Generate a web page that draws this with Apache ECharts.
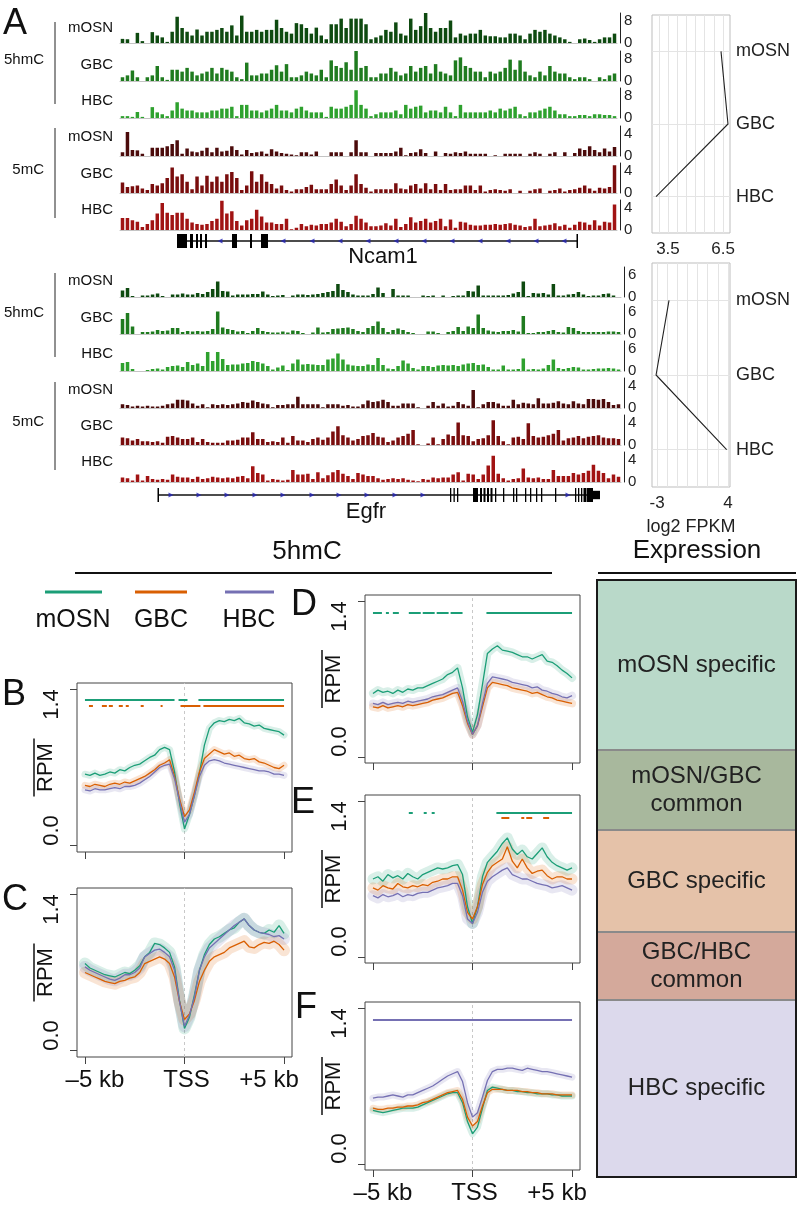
<!DOCTYPE html>
<html><head><meta charset="utf-8">
<script src="https://cdn.jsdelivr.net/npm/echarts@6/dist/echarts.min.js"></script>
<style>html,body{margin:0;padding:0;background:#fff}#c{width:802px;height:1208px}</style>
</head><body><div id="c"></div><script>
// ---------------- DATA ----------------
const cellTypes = ['mOSN', 'GBC', 'HBC'];

// Panel A, Ncam1 locus: binned signal (5hmC scale 0-8, 5mC scale 0-4)
const ncam1_hmC_mOSN = [1.1,1,0,2.7,0.5,0,2.9,2,1.5,0.3, 3,7,4,3,2,3.6,2,3,3,3.5, 4,3,4.7,2,7.3,3,3,3.5,3,3.5, 3.5,6.2,4,3,2.5,5.3,5,4,2.5,4.1, 2,1,5,5,6.5,4,6.5,6.5,6.5,5, 1,1.5,2,3.5,3,5.5,2.5,2,6.5,3.5, 4.5,8,4,3,4,4,6,1.5,2.5,2, 2.5,2.5,3.5,2,1.8,1.8,1.5,1.5,2.5,2.5, 2,1,2.5,3.5,3,3.5,2.5,2,1.5,1, 0.3,0,1,1.2,0.8,0.3,1,1.5,1.5,2.5];
const ncam1_hmC_GBC = [1,1.5,2.8,1,0,1,1.5,4,1,0.3, 3,3,2.5,3.5,2.5,1.5,2,2.5,3.5,2, 3.5,3,2.5,1,0.5,4.9,1.5,1.5,2,2, 3,4.2,2.5,4.5,1,1,1.5,2.5,2,1.5, 3,1,5.5,4,3.5,5,3,8,3.5,4, 1,1,2,2,3.5,2.5,1.5,2,4,2.5, 3.5,4,2,4.5,2.5,2,1.5,5.5,6.3,4, 3.5,2.5,2.5,1,2.5,2,2.5,3.5,5.7,3, 5.5,2.5,1.5,1,2.5,1.5,4,2.5,2,2, 1,0.5,1,1,0.5,0,1,0.5,1.5,2];
const ncam1_hmC_HBC = [0.5,0.5,0.3,1.6,0.3,0,2.9,1.5,1,0.5, 2,4.2,2.5,2,2,1.5,1.5,1.5,2,2, 2.5,2.5,3,0.5,3.5,3.5,2,2,1.5,2, 2.5,3.5,2,2,1.5,2.5,3,2,1.5,1.5, 1.5,0.3,3,2.5,2.5,3,3.5,7.4,3.5,2.5, 0.5,1,1.5,1.5,1.5,2,1,3.5,2.5,3, 3.3,1.5,2,2,1.5,3,1.5,0.5,3.5,1.5, 1.5,1.5,1.5,1.5,2,1.5,2.5,2,2.5,3, 1,0.5,1.5,1.5,2,2.5,3,2,1,1, 0.5,0.5,0.8,0.8,0.5,1,1,0.8,0.8,0.5];
const ncam1_mC_mOSN = [0.5,3.2,0.8,0.75,0.3,0,1.1,1.1,1.1,1.3, 1.6,2.1,0.3,1,0.6,0.5,0.7,1.1,0.5,1.1, 0.6,0.7,1.3,0.8,0.2,0.8,0.4,0.5,0.6,0.3, 0.9,0.6,0.4,0.3,0.2,0.1,0.5,0.5,0.2,0.6, 0,0,0.5,0.5,0.5,0,0.5,2.1,0.5,0.5, 0,0.4,0.4,0.4,0.4,0.6,1.1,0.1,0.4,0.5, 0.9,0.4,0,0.6,0,0.4,0.3,0.5,0.4,0.6, 0.3,0.3,0.3,0.3,0,0.1,0,0.3,0.3,0.3, 0.3,0,0.3,0.5,0.3,0,0.3,0.5,0,0.5, 0,0.4,1,0.8,1.3,0.8,0.5,1,0.6,1.2];
const ncam1_mC_GBC = [1.4,0.8,0.9,1,0.6,0.4,1.2,1,1.3,2, 3.4,2.2,2.5,1.5,0.5,2.2,1,2.3,1.5,2.2, 1.5,2.5,2.8,2,0.4,1,2.9,1.5,2.5,1.5, 1.2,0.6,1,0.4,0.2,0.5,0.5,0.8,1.1,0.5, 0.5,0.5,1.2,1.8,1,0.4,1,2.5,1.2,0.7, 0.2,0.5,0.5,0.5,0.5,1.3,0.6,0.5,1,1.2, 0.6,1.3,0.5,1.2,0.4,1.2,0.4,0.5,0.5,1, 1,0.4,1,0.2,0.4,0.5,0.4,0.3,0.5,0, 0.3,0,0.3,0.5,0.6,0,0.3,0.4,0.6,0.2, 0.4,0.5,0.7,1,0.6,0.3,0.7,0.6,0.8,3.7];
const ncam1_mC_HBC = [1.6,1.6,1.3,1.1,0.4,0.8,1.3,2.2,3.6,2.3, 2,2.3,2.3,1.5,1,0.8,0.7,0.8,1.2,1.5, 3.9,2.2,2.5,1.2,0.6,1.3,1.5,2.7,1.8,1, 1,0.8,0.8,1.5,0.1,0.3,0.8,0.5,0.7,0.6, 0.8,0.8,1,1.5,1.1,0.5,0.8,1.9,1.5,1, 0.5,0.5,0.6,0.9,0.6,1.5,0.4,0.8,1.7,1, 1.2,1.5,1,1.2,1.5,0.5,1.4,0.3,1.1,1, 0.7,0.6,0.6,0.7,0.7,0.8,0.7,0.8,0.9,0.7, 0.6,0.4,0.5,1.5,0.5,0.6,0.7,0.9,0.5,0.7, 0.3,0.7,1.1,1,0.7,1.3,0.6,1.1,1,3.4];

// Panel A, Egfr locus (5hmC scale 0-6, 5mC scale 0-4)
const egfr_hmC_mOSN = [1.3,1.8,0.2,0,0.3,0.3,0.5,0.7,0.2,0, 0.5,0.5,0.7,0.5,0.5,0.8,0.6,1,1.6,3.1, 1.2,1.1,0.3,0.5,0.5,0.5,0.6,0.6,1.1,0.5, 0.2,0.3,0.4,0,0.3,0.5,0.5,0.4,0.5,0.6, 0.8,1,1.2,2.6,1.4,1,0.5,0.3,0.3,0.3, 0.6,1.9,0.8,0,1.6,0.3,0.3,0.3,0,0, 0.3,0.2,0.3,0,0.3,0,0.2,0.3,0.3,1.2, 1.1,2.3,0.3,0.3,0.3,0.3,0.3,0.4,0.7,1, 3.1,0.2,0.8,0.7,0.8,0.5,2.6,0.3,0.3,0.5, 0.6,1,0.5,0.2,0.3,0.3,0.6,0.7,0.3,0];
const egfr_hmC_GBC = [3,4.2,1.5,0,0.4,0.4,0.5,0.8,0.6,0.7, 1.2,1.2,0.4,0.6,0.5,0.6,0.5,0.6,1,4.5, 1.3,1,0.8,0.5,0.6,0.2,0.6,1.2,0.6,0.4, 0.3,0.3,0.5,0.3,0.7,0.6,0.2,0,0.3,1.3, 0.3,0.4,1,1.1,1.2,1.3,1,0.6,0.4,1.2, 1.6,2.5,1.2,0.4,0.8,1.1,0.8,0.4,0.2,0, 0,0.5,0.5,0.2,0,0.4,0.6,1.4,0.6,1.5, 1.2,3.9,1.2,0.7,0.5,0.4,0.6,0.6,0.8,0.5, 3.6,0.2,0.2,0.4,0.4,0.6,0.8,0.4,0.3,1.4, 1.2,0.6,0.4,0.4,0.4,0.4,0.4,0.5,0.5,0.4];
const egfr_hmC_HBC = [1.6,1.8,0.4,0,0,0.2,0.4,0.5,0.3,0.8, 1,1.1,0.8,1.8,1.2,1.5,1,3.8,2,3.8, 2.4,1.2,1.3,1.3,1.5,1.6,2,1.8,1.5,1, 0.3,0.7,1.1,0.2,1.5,2.3,1.3,1.4,1.3,1.2, 1.2,2.3,2.5,3.5,2.3,1.3,1.1,1,1,1.3, 1.2,2.6,1.2,0.5,0.4,1,2.1,1.5,0.6,0.3, 1,1,0.8,1.1,1.2,1.1,1.2,1,1.3,1.5, 1.6,1.2,1.3,0.8,0.3,0.3,1.1,0.3,0.3,0.4, 2.5,0.3,0.4,0.3,0.5,1.2,2.3,0.6,0.4,0.6, 0.8,0.7,0.3,0.3,0.4,0.5,0.5,0.6,0.5,0.3];
const egfr_mC_mOSN = [0.5,0.4,0.2,0.3,0.2,0.3,0.2,0.2,0.3,0.5, 0.6,1.1,1.1,1,0.6,0.3,0.5,0.1,0.5,0.4, 0.5,0.4,0.5,0.6,0.8,0.7,1,0.8,0.6,0.5, 0.1,0.4,0.4,0.5,0.5,1.5,0.5,0.5,0.5,0.5, 0.1,0.5,0.5,0.5,0.3,0.4,0.2,0.2,0.5,1, 0.8,0.9,1.1,0.8,0.3,0.3,0.6,0.6,0.6,0.1, 0,0.3,0.8,0.3,0.6,0.2,0.3,0.8,0.5,0.3, 2.4,0.1,0.5,0.8,0.8,0.6,0.3,0.3,1.1,0.5, 0.7,0.6,0.5,1.3,0.6,0.6,0.7,0.9,0.6,0.5, 0.9,0.6,0.5,1.2,1.2,1.1,1.2,0.8,0.4,0.5];
const egfr_mC_GBC = [1,0.9,0.6,0.8,0.5,0.5,0.4,0.5,0.3,1.1, 1.2,1,0.8,0.8,1,0.4,0.8,0.4,0.3,0.3, 0.3,0.6,0.6,0.7,1,1,1.7,0.8,0.8,0.4, 0.5,0.4,1,0.3,1.2,0.6,0.6,0.4,0.8,1, 0.7,1,1.8,2.5,1.3,1,0.6,0.8,1.2,1.3, 1.6,1.1,1,0.4,0.6,1,1.2,1.5,2,0.1, 0,0.2,1,0.1,0.8,1.4,1.2,3,1.3,1.2, 0.5,0.8,0.9,1.3,3.3,1.2,0.5,0.1,1,1.1, 0.8,2.9,1.2,1,1.1,1.3,1.5,2,0.6,0.9, 1,1.2,0.9,1.1,1.2,1.3,1,0.9,0.9,0.8];
const egfr_mC_HBC = [0.6,0.5,0.2,1,0.2,0.8,0.4,0.3,0.4,0.3, 1,0.7,0.6,0.6,0.4,0.7,0.4,0.5,0.7,0.6, 0.5,0.6,0.5,0.7,0.8,0.5,2.1,1.2,1,0.2, 0.4,0.3,0.2,0.3,1.6,1,1,1.1,0.4,1.3, 0.5,0.9,1.3,1.6,1.1,0.8,0.4,1.2,1,0.8, 0.8,0.5,0.3,0.4,0.5,0.4,0.5,0.3,0.2,0.1, 0.4,0.3,0.6,0.5,0.6,0.6,1,1.3,0.2,1.1, 1,0.4,1,2.2,3.5,1.1,0.5,0.2,0.4,0.5, 1.8,0.6,0.5,0.6,0.4,0.4,1.6,0.8,0.8,0.8, 1.2,1,1.2,1.5,2.3,1.5,1.2,0.5,1,0.7];

// Gene models (positions within the browser window)
const ncam1Span = [57, 457];
const ncam1Exons = [[57,67,1],[70,73,1],[76,78,1],[80,82,1],[85,87,1],[112,117,1],[130,132,1],[141,148,1],[456.5,458,1]];
const ncam1Arrows = [100,163,192,220,248,276,304,332,360,388,416,444];
const egfrSpan = [38, 480];
const egfrExons = [[37.5,39,1],[330,331.3,1],[333.5,334.8,1],[337,338.3,1],[353,358,1],[360,362,1],[363.5,365.5,1],[367,369,1],[370.5,372.5,1],[375,376.3,1],[383,384.3,1],[393,394.3,1],[396,397.3,1],[405,406.3,1],[410,411.3,1],[416,417.3,1],[421,422.3,1],[435,436.3,1],[455,456.3,1],[458,459.3,1],[461,462.3,1],[463.5,466,1],[466.5,473,1],[473,480,0.6]];
const egfrArrows = [51,79,107,135,163,192,219,247,275,303,448];

// Expression (log2 FPKM)
const ncam1Expr = [6.39, 6.77, 2.85];
const egfrExpr = [-1.82, -3.1, 3.87];

// Profiles around TSS (kb)
const xKb = [-5,-4.75,-4.5,-4.25,-4,-3.75,-3.5,-3.25,-3,-2.75,-2.5,-2.25,-2,-1.75,-1.5,-1.25,-1,-0.75,-0.5,-0.25,0,0.25,0.5,0.75,1,1.25,1.5,1.75,2,2.25,2.5,2.75,3,3.25,3.5,3.75,4,4.25,4.5,4.75,5];
const B_mOSN = [.64,.63,.65,.63,.64,.66,.65,.68,.67,.70,.72,.73,.76,.79,.81,.86,.88,.86,.66,.38,.15,.28,.45,.65,.90,1.05,1.10,1.12,1.11,1.13,1.12,1.14,1.10,1.09,1.07,1.08,1.05,1.04,1.03,1.02,.99];
const B_GBC  = [.54,.53,.55,.54,.53,.55,.56,.55,.57,.56,.58,.60,.62,.65,.68,.72,.74,.77,.62,.42,.26,.32,.48,.66,.78,.82,.86,.84,.82,.83,.80,.81,.78,.77,.78,.75,.74,.72,.70,.69,.72];
const B_HBC  = [.50,.49,.51,.50,.50,.51,.52,.51,.53,.53,.54,.56,.59,.62,.66,.70,.72,.73,.60,.40,.21,.28,.45,.62,.72,.76,.77,.76,.74,.73,.72,.71,.70,.69,.68,.67,.67,.66,.64,.64,.63];
const C_mOSN = [.78,.74,.72,.70,.68,.67,.66,.68,.70,.69,.72,.76,.84,.88,.96,.95,.92,.88,.75,.45,.20,.30,.50,.72,.86,.95,1.0,1.02,1.05,1.08,1.10,1.15,1.18,1.12,1.08,1.06,1.05,1.08,1.06,1.12,1.05];
const C_GBC  = [.70,.68,.66,.64,.62,.61,.60,.62,.63,.65,.66,.70,.78,.80,.82,.84,.82,.78,.66,.44,.28,.33,.45,.62,.72,.80,.84,.86,.88,.92,.94,.96,.98,.93,.92,.95,.97,.96,.98,.95,.90];
const C_HBC  = [.75,.72,.70,.68,.66,.64,.63,.65,.68,.68,.70,.74,.84,.87,.90,.91,.88,.84,.72,.44,.22,.32,.48,.72,.84,.92,.96,1.0,1.04,1.08,1.12,1.15,1.18,1.12,1.08,1.06,1.05,1.04,1.02,1.03,1.0];
const D_mOSN = [.57,.60,.58,.59,.57,.60,.58,.61,.60,.62,.62,.64,.66,.68,.70,.74,.76,.80,.62,.36,.22,.38,.65,.93,.97,1.0,.96,.95,.94,.92,.90,.90,.88,.90,.92,.86,.85,.82,.78,.75,.71];
const D_GBC  = [.45,.44,.46,.44,.45,.46,.45,.47,.46,.47,.48,.49,.51,.52,.53,.55,.57,.58,.46,.30,.20,.28,.45,.62,.67,.66,.65,.64,.62,.61,.60,.59,.57,.58,.56,.54,.53,.51,.50,.49,.48];
const D_HBC  = [.48,.47,.49,.47,.48,.49,.48,.50,.49,.50,.51,.52,.54,.55,.56,.58,.60,.62,.50,.32,.20,.28,.48,.66,.72,.71,.70,.69,.67,.66,.65,.64,.62,.63,.60,.59,.57,.56,.54,.53,.55];
const E_mOSN = [.70,.72,.68,.74,.71,.73,.70,.75,.72,.70,.74,.76,.78,.80,.79,.80,.82,.83,.74,.45,.30,.45,.72,.85,.90,.95,1.02,1.07,.97,.92,.96,.90,.88,.93,.98,.90,.85,.82,.80,.78,.80];
const E_GBC  = [.62,.60,.64,.62,.61,.66,.63,.62,.64,.63,.65,.64,.67,.68,.70,.70,.72,.72,.60,.40,.34,.45,.65,.76,.82,.85,.88,.99,.86,.80,.88,.80,.75,.77,.78,.73,.70,.72,.72,.70,.70];
const E_HBC  = [.55,.53,.56,.54,.55,.57,.54,.56,.55,.57,.58,.58,.60,.62,.63,.64,.66,.66,.55,.34,.30,.40,.58,.68,.72,.75,.78,.80,.74,.72,.70,.70,.68,.66,.65,.64,.62,.63,.64,.62,.60];
const F_mOSN = [.48,.47,.46,.47,.48,.49,.50,.50,.50,.51,.53,.55,.57,.59,.61,.63,.64,.64,.55,.38,.27,.33,.50,.66,.69,.68,.67,.66,.66,.65,.65,.64,.64,.63,.63,.63,.62,.62,.61,.61,.61];
const F_GBC  = [.50,.49,.49,.50,.50,.51,.51,.52,.52,.53,.55,.56,.58,.60,.62,.64,.65,.66,.58,.42,.34,.38,.52,.64,.67,.67,.67,.66,.66,.66,.65,.65,.64,.64,.63,.63,.63,.62,.62,.62,.62];
const F_HBC  = [.59,.60,.60,.61,.62,.61,.60,.62,.62,.64,.66,.68,.70,.73,.76,.79,.81,.83,.74,.55,.42,.46,.60,.75,.83,.85,.85,.86,.86,.85,.84,.86,.85,.84,.83,.83,.82,.81,.80,.79,.78];

// Significance segments [start kb, end kb]
const B_sig_mOSN = [[-5,-0.5],[-0.3,0.15],[0.7,5]];
const B_sig_GBC = [[-4.8,-4.6],[-4.15,-3.9],[-3.8,-3.6],[-3.3,-3.1],[-2.95,-2.8],[-2.2,-2.05],[-1.2,-1.1],[-0.2,0.8],[0.95,5]];
const D_sig_mOSN = [[-5,-4.55],[-4.35,-4.2],[-4.0,-3.7],[-3.2,-2.6],[-2.5,-1.9],[-1.8,-1.2],[-1.1,-0.5],[0.7,5]];
const E_sig_mOSN = [[-3.2,-3.0],[-2.45,-2.3],[-2.05,-1.9],[1.2,5]];
const E_sig_GBC = [[1.45,1.85],[2.45,2.6],[2.7,3.0],[3.55,3.85]];
const F_sig_HBC = [[-5,5]];

// Expression groups (panel right)
const exprGroupNames = ['mOSN specific','mOSN/GBC\ncommon','GBC specific','GBC/HBC\ncommon','HBC specific'];
const exprGroupSizes = [170, 80, 102, 68, 177];

// ---------------- STYLE ----------------
const FONT = "'Liberation Sans', Arial, Helvetica, sans-serif";
const COL = {mOSN:'#1b9e77', GBC:'#d95f02', HBC:'#7570b3'};
const hmcCols = ['#0e4a10','#1f7b1f','#2ea12e'];
const mcCols = ['#4b0b0b','#790d0d','#a11313'];
const groupCols = ['#b9d9c9','#a8b89d','#e5c2a9','#d4a99b','#dcd9ec'];

const grids=[], xAxes=[], yAxes=[], series=[], graphics=[];

function addTrack(values, left, width, baseline, max, color){
  const gi = grids.length;
  grids.push({left, top: baseline-30, width, height:30});
  xAxes.push({gridIndex:gi, type:'category', data: values.map((_,i)=>i), boundaryGap:true,
    axisLine:{show:true, onZero:false, lineStyle:{color:'#c4c4c4', width:1}}, axisTick:{show:false}, axisLabel:{show:false}, splitLine:{show:false}});
  yAxes.push({gridIndex:gi, type:'value', min:0, max, position:'right', offset:3,
    axisLine:{show:true, onZero:false, lineStyle:{color:'#222', width:1}}, axisTick:{show:false}, splitLine:{show:false},
    axisLabel:{customValues:[0,max], fontSize:15, color:'#222', margin:4, fontFamily:FONT, verticalAlignMaxLabel:'top'}});
  series.push({type:'bar', xAxisIndex:gi, yAxisIndex:gi, data:values, barCategoryGap:'30%', itemStyle:{color}, silent:true});
}

function addGene(span, exons, arrows, dir, left, width, cy){
  const gi = grids.length;
  grids.push({left, top: cy-7, width, height:14});
  xAxes.push({gridIndex:gi, type:'value', min:0, max:width, show:false});
  yAxes.push({gridIndex:gi, type:'value', min:-1, max:1, show:false});
  series.push({type:'line', xAxisIndex:gi, yAxisIndex:gi, data:[[span[0],0],[span[1],0]], symbol:'none',
    lineStyle:{color:'#111', width:1.3}, silent:true, z:2});
  series.push({type:'scatter', xAxisIndex:gi, yAxisIndex:gi, data:arrows.map(a=>[a,0]), symbol:'triangle',
    symbolSize:[5,5], symbolRotate: dir<0 ? 90 : -90, itemStyle:{color:'#2424b4'}, silent:true, z:3});
  series.push({type:'custom', xAxisIndex:gi, yAxisIndex:gi, data:exons, silent:true, z:4,
    encode:{x:[0,1], y:2},
    renderItem:(params, api)=>{
      const h = api.value(2);
      const p0 = api.coord([api.value(0), h]);
      const p1 = api.coord([api.value(1), -h]);
      return {type:'rect', shape:{x:p0[0], y:p0[1], width:Math.max(1.3, p1[0]-p0[0]), height:p1[1]-p0[1]}, style:{fill:'#000'}};
    }});
}

function addExpr(vals, top, height, xmin, xmax, ticks, labels, name){
  const gi = grids.length;
  grids.push({left:652, top, width:78, height, show:true, borderColor:'#bdbdbd', borderWidth:1});
  xAxes.push({gridIndex:gi, type:'value', min:xmin, max:xmax, axisLine:{show:false, onZero:false}, splitLine:{show:false},
    axisTick:{show:true, customValues:ticks, inside:true, length:3, lineStyle:{color:'#888'}},
    axisLabel:{customValues:labels, fontSize:17, color:'#222', margin:8, fontFamily:FONT},
    name: name || '', nameLocation:'middle', nameGap:31, nameMoveOverlap:false, nameTextStyle:{fontSize:18, color:'#222', fontFamily:FONT}});
  yAxes.push({gridIndex:gi, type:'category', data:cellTypes, inverse:true, position:'right',
    axisLine:{show:false, onZero:false}, axisTick:{show:false}, splitLine:{show:false},
    axisLabel:{fontSize:18, color:'#222', margin:6, fontFamily:FONT}});
  series.push({type:'line', xAxisIndex:gi, yAxisIndex:gi, data:[], silent:true, z:1,
    markLine:{silent:true, z:1, symbol:'none', label:{show:false},
      lineStyle:{color:'#e4e4e4', width:1, type:'solid'},
      data: ticks.map(v=>({xAxis:v})).concat(cellTypes.map(c=>({yAxis:c})))}});
  series.push({type:'line', xAxisIndex:gi, yAxisIndex:gi, data: vals.map((v,i)=>[v, cellTypes[i]]),
    symbol:'none', lineStyle:{color:'#222', width:1.1}, silent:true, z:10});
}

function xTickText(v){ return v < 0 ? '{a|\u20135 kb}' : (v > 0 ? '{c|+5 kb}' : '{b|TSS}'); }

function addProfile(p){
  const gi = grids.length;
  grids.push({left:p.left, top:p.top, width:215, height:p.h, show:true, borderColor:'#444', borderWidth:1});
  xAxes.push({gridIndex:gi, type:'value', min:-5.4, max:5.4, axisLine:{show:false, onZero:false}, splitLine:{show:false},
    axisTick:{show:true, customValues:[-5,0,5], length:7, lineStyle:{color:'#444', width:1}},
    axisLabel:{show:p.showX, customValues:[-5,0,5], formatter:xTickText, fontSize:24, color:'#111', margin:11, fontFamily:FONT,
      rich:{a:{fontSize:24, fontFamily:FONT, color:'#111', padding:[0,0,0,20]},
            b:{fontSize:24, fontFamily:FONT, color:'#111', padding:[0,0,0,4]},
            c:{fontSize:24, fontFamily:FONT, color:'#111', padding:[0,30,0,0]}}}});
  yAxes.push({gridIndex:gi, type:'value', min:-0.056, max:1.456, axisLine:{show:false, onZero:false}, splitLine:{show:false},
    axisTick:{show:true, customValues:[0,1.4], length:7, lineStyle:{color:'#444', width:1}},
    axisLabel:{customValues:[0,1.4], formatter:v=>v.toFixed(1), rotate:90, fontSize:22, color:'#111', margin:14, fontFamily:FONT,
      alignMinLabel:'left', alignMaxLabel:'right'},
    name:'RPM', nameLocation:'middle', nameRotate:90, nameGap:20, nameMoveOverlap:false,
    nameTextStyle:{fontSize:22, color:'#111', fontFamily:FONT}});
  series.push({type:'line', xAxisIndex:gi, yAxisIndex:gi, data:[], silent:true, z:1,
    markLine:{silent:true, z:1, symbol:'none', label:{show:false}, lineStyle:{color:'#c8c8c8', type:[3,3], width:1},
      data:[[{coord:[0,-0.056]},{coord:[0,1.456]}]]}});
  p.sig.forEach(s=>{
    series.push({type:'line', xAxisIndex:gi, yAxisIndex:gi, data:[], silent:true, z:2,
      markLine:{silent:true, z:2, symbol:'none', label:{show:false}, lineStyle:{color:COL[s.cell], type:'solid', width:2},
        data: s.segs.map(seg=>[{coord:[seg[0], s.y]},{coord:[seg[1], s.y]}])}});
  });
  p.lines.forEach(l=>{
    series.push({type:'line', xAxisIndex:gi, yAxisIndex:gi, data:xKb.map((x,i)=>[x,l.data[i]]), symbol:'none',
      lineStyle:{color:COL[l.cell], width:p.band, opacity:0.17, cap:'round', join:'round'}, silent:true, z:3});
  });
  p.lines.forEach(l=>{
    series.push({type:'line', xAxisIndex:gi, yAxisIndex:gi, data:xKb.map((x,i)=>[x,l.data[i]]), symbol:'none',
      lineStyle:{color:COL[l.cell], width:1.3}, silent:true, z:4});
  });
  const cy = p.top + p.h/2;
  graphics.push({type:'line', shape:{x1:p.left-43, y1:cy-29, x2:p.left-43, y2:cy+29}, style:{stroke:'#111', lineWidth:1.5}});
}

// ---------- Panel A tracks ----------
const ncamBase = [43,81,118,156,193,230];
const egfrBase = [297,334,371,408,445,482];
[ncam1_hmC_mOSN, ncam1_hmC_GBC, ncam1_hmC_HBC].forEach((v,i)=>addTrack(v,120,497,ncamBase[i],8,hmcCols[i]));
[ncam1_mC_mOSN, ncam1_mC_GBC, ncam1_mC_HBC].forEach((v,i)=>addTrack(v,120,497,ncamBase[i+3],4,mcCols[i]));
[egfr_hmC_mOSN, egfr_hmC_GBC, egfr_hmC_HBC].forEach((v,i)=>addTrack(v,120,501,egfrBase[i],6,hmcCols[i]));
[egfr_mC_mOSN, egfr_mC_GBC, egfr_mC_HBC].forEach((v,i)=>addTrack(v,120,501,egfrBase[i+3],4,mcCols[i]));
addGene(ncam1Span, ncam1Exons, ncam1Arrows, -1, 120, 497, 241);
addGene(egfrSpan, egfrExons, egfrArrows, 1, 120, 501, 495);
addExpr(ncam1Expr, 15, 218, 2.63, 6.88, [3,3.5,4,4.5,5,5.5,6,6.5], [3.5,6.5]);
addExpr(egfrExpr, 263, 224, -3.5, 4.2, [-3,-2,-1,0,1,2,3,4], [-3,4], 'log2 FPKM');

// ---------- Profiles ----------
addProfile({left:77, top:683, h:169, showX:false, band:7,
  lines:[{cell:'mOSN',data:B_mOSN},{cell:'GBC',data:B_GBC},{cell:'HBC',data:B_HBC}],
  sig:[{cell:'mOSN', y:1.31, segs:B_sig_mOSN},{cell:'GBC', y:1.256, segs:B_sig_GBC}]});
addProfile({left:77, top:888, h:169, showX:true, band:12,
  lines:[{cell:'mOSN',data:C_mOSN},{cell:'GBC',data:C_GBC},{cell:'HBC',data:C_HBC}], sig:[]});
addProfile({left:365, top:595, h:168, showX:false, band:8,
  lines:[{cell:'mOSN',data:D_mOSN},{cell:'GBC',data:D_GBC},{cell:'HBC',data:D_HBC}],
  sig:[{cell:'mOSN', y:1.30, segs:D_sig_mOSN}]});
addProfile({left:365, top:795, h:168, showX:false, band:11,
  lines:[{cell:'mOSN',data:E_mOSN},{cell:'GBC',data:E_GBC},{cell:'HBC',data:E_HBC}],
  sig:[{cell:'mOSN', y:1.30, segs:E_sig_mOSN},{cell:'GBC', y:1.25, segs:E_sig_GBC}]});
addProfile({left:365, top:1002, h:168, showX:true, band:7,
  lines:[{cell:'mOSN',data:F_mOSN},{cell:'GBC',data:F_GBC},{cell:'HBC',data:F_HBC}],
  sig:[{cell:'HBC', y:1.30, segs:F_sig_HBC}]});

// ---------- Expression groups box ----------
(function(){
  const gi = grids.length;
  grids.push({left:597, top:580, width:199, height:597});
  xAxes.push({gridIndex:gi, type:'category', data:['groups'], show:false});
  yAxes.push({gridIndex:gi, type:'value', min:0, max:exprGroupSizes.reduce((a,b)=>a+b,0), inverse:true, show:false});
  exprGroupNames.forEach((n,i)=>{
    series.push({type:'bar', name:n, stack:'expr', xAxisIndex:gi, yAxisIndex:gi, data:[exprGroupSizes[i]], barWidth:'100%',
      itemStyle:{color:groupCols[i], borderColor:'#8a8a8a', borderWidth:1}, silent:true,
      label:{show:true, position:'inside', formatter:n, fontSize:24, lineHeight:28, color:'#222', fontFamily:FONT}});
  });
  graphics.push({type:'rect', shape:{x:597, y:580, width:199, height:597}, style:{fill:'none', stroke:'#1a1a1a', lineWidth:2}, z:100});
})();

// ---------- text and decorations ----------
function txt(t, x, y, size, align){
  graphics.push({type:'text', x, y, style:{text:t, fontSize:size, fontFamily:FONT, fill:'#111', align:align||'left', verticalAlign:'middle'}});
}
function vline(x, y1, y2, w){ graphics.push({type:'line', shape:{x1:x,y1,x2:x,y2}, style:{stroke:'#222', lineWidth:w||1}}); }
function hline(x1, x2, y, w, c){ graphics.push({type:'line', shape:{x1,y1:y,x2,y2:y}, style:{stroke:c||'#111', lineWidth:w||1}}); }

txt('A', 3, 24, 36);
const ncamLabY = [28,65,101,137,174,210], egfrLabY = [281,318,354,390,426,462];
ncamLabY.forEach((y,i)=>txt(cellTypes[i%3], 113, y, 15, 'right'));
egfrLabY.forEach((y,i)=>txt(cellTypes[i%3], 113, y, 15, 'right'));
txt('5hmC', 44, 60, 15, 'right'); txt('5mC', 44, 170, 15, 'right');
txt('5hmC', 44, 313, 15, 'right'); txt('5mC', 44, 422, 15, 'right');
vline(55, 22, 104); vline(55, 128, 218); vline(55, 273, 357); vline(55, 382, 470);
txt('Ncam1', 383, 257, 22, 'center');
txt('Egfr', 366, 512, 22, 'center');

txt('5hmC', 307, 552, 26, 'center');
hline(75, 552, 573, 2);
txt('Expression', 697, 551, 26, 'center');
hline(598, 796, 573, 2);

[['mOSN',45,102,73],['GBC',135,187,161],['HBC',225,274,249]].forEach(l=>{
  hline(l[1], l[2], 592, 3, COL[l[0]]);
  txt(l[0], l[3], 620, 25, 'center');
});

txt('B', 2, 695, 36); txt('C', 2, 900, 36);
txt('D', 291, 605, 36); txt('E', 291, 803, 36); txt('F', 295, 1008, 36);

const chart = echarts.init(document.getElementById('c'), null, {renderer:'canvas', width:802, height:1208});
chart.setOption({
  animation:false, backgroundColor:'#fff',
  textStyle:{fontFamily:FONT},
  grid:grids, xAxis:xAxes, yAxis:yAxes, series, graphic:graphics
});
</script></body></html>
